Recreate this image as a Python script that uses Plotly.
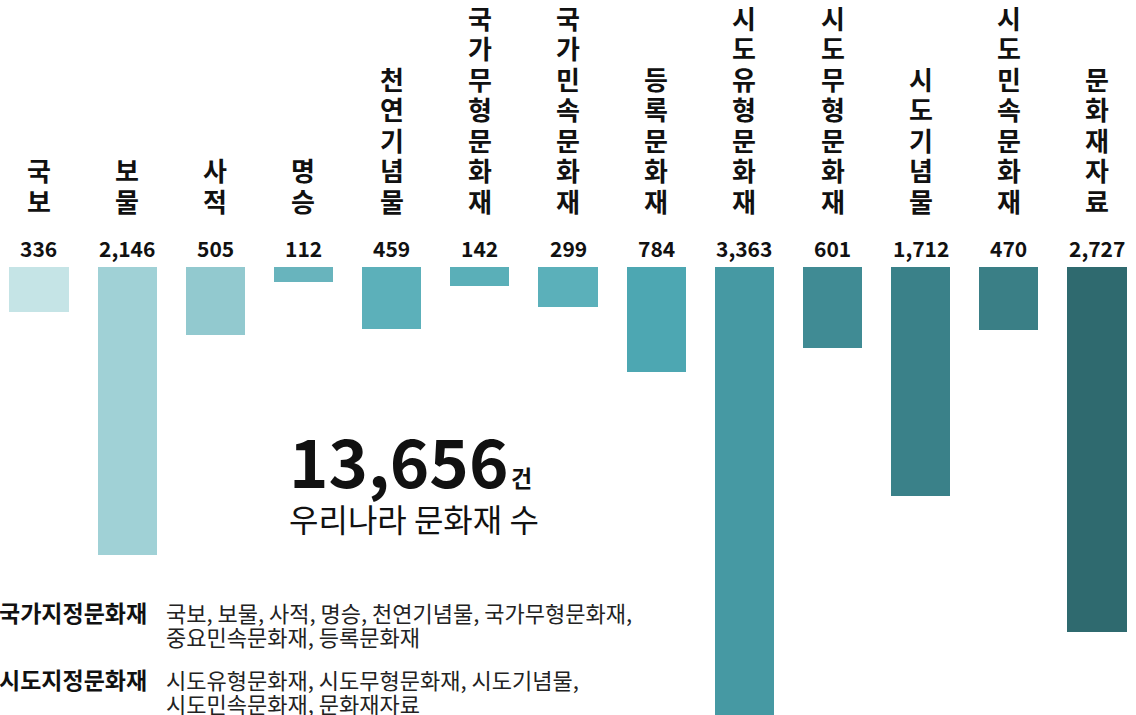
import plotly.graph_objects as go

categories = ["국보", "보물", "사적", "명승", "천연기념물", "국가무형문화재", "국가민속문화재",
              "등록문화재", "시도유형문화재", "시도무형문화재", "시도기념물", "시도민속문화재", "문화재자료"]
values = [336, 2146, 505, 112, 459, 142, 299, 784, 3363, 601, 1712, 470, 2727]
colors = ["#c5e4e6", "#a0d1d6", "#92c9cf", "#68b4bd", "#5cb0ba", "#5aafb8", "#5bb0ba",
          "#4da7b2", "#4699a3", "#408b94", "#3a8189", "#3a7f86", "#2f6a6f"]
total_label = "13,656"
total_unit = "건"
subtitle = "우리나라 문화재 수"
legend_groups = ["국가지정문화재", "시도지정문화재"]
legend_lines = [["국보, 보물, 사적, 명승, 천연기념물, 국가무형문화재,", "중요민속문화재, 등록문화재"],
                ["시도유형문화재, 시도무형문화재, 시도기념물,", "시도민속문화재, 문화재자료"]]

FONT = "Noto Sans CJK KR"
W, H = 1136, 715


def py(p):
    return 1 - p / H


def px(p):
    return p / W


x_idx = list(range(len(categories)))

fig = go.Figure()
fig.add_trace(go.Bar(
    x=x_idx, y=values, marker=dict(color=colors, line=dict(width=0)),
    width=0.67, hoverinfo="skip", showlegend=False,
))

anns = []
# vertical category labels: one annotation per character, stacked upward from bottom
LINE = 30.5
BOTTOM_CENTER = 200
for i, (c, v) in enumerate(zip(categories, values)):
    chars = list(c)
    nch = len(chars)
    for k, ch in enumerate(chars):
        yc = BOTTOM_CENTER - (nch - 1 - k) * LINE
        anns.append(dict(
            x=i, y=py(yc), xref="x", yref="paper", yanchor="middle", xanchor="center",
            text=ch, showarrow=False,
            font=dict(family=FONT, size=26, color="#111111", weight="bold"),
        ))
    anns.append(dict(
        x=i, y=py(248), xref="x", yref="paper", yanchor="middle", xanchor="center",
        text=f"{v:,}", showarrow=False,
        font=dict(family=FONT, size=21, color="#111111", weight="bold"),
    ))

anns.append(dict(
    x=px(287), y=py(458), xref="paper", yref="paper", showarrow=False,
    text=f"<b>{total_label}</b>", xanchor="left", yanchor="middle",
    font=dict(family=FONT, size=67, color="#111111"),
))
anns.append(dict(
    x=px(509), y=py(477), xref="paper", yref="paper", showarrow=False,
    text=f"<b>{total_unit}</b>", xanchor="left", yanchor="middle",
    font=dict(family=FONT, size=23, color="#111111"),
))
anns.append(dict(
    x=px(287), y=py(518), xref="paper", yref="paper", showarrow=False,
    text=subtitle, xanchor="left", yanchor="middle",
    font=dict(family=FONT, size=32, color="#111111"),
))

group_y = [612, 679]
for g, lines, gy in zip(legend_groups, legend_lines, group_y):
    anns.append(dict(
        x=px(-3), y=py(gy), xref="paper", yref="paper", showarrow=False,
        text=f"<b>{g}</b>", xanchor="left", yanchor="middle",
        font=dict(family=FONT, size=23, color="#111111"),
    ))
    for j, ln in enumerate(lines):
        anns.append(dict(
            x=px(164), y=py(gy + 24 * j), xref="paper", yref="paper", showarrow=False,
            text=ln, xanchor="left", yanchor="middle",
            font=dict(family=FONT, size=22, color="#222222"),
        ))

fig.update_layout(
    width=W, height=H,
    margin=dict(l=0, r=0, t=0, b=0),
    paper_bgcolor="white", plot_bgcolor="white",
    xaxis=dict(range=[-0.442, 12.442], visible=False, fixedrange=True),
    yaxis=dict(range=[3343, -1993], visible=False, fixedrange=True),
    bargap=0,
    annotations=anns,
)

fig.write_html("out.html", config={"displayModeBar": False},
               post_script="document.body.style.margin='0';document.body.style.overflow='hidden';")
